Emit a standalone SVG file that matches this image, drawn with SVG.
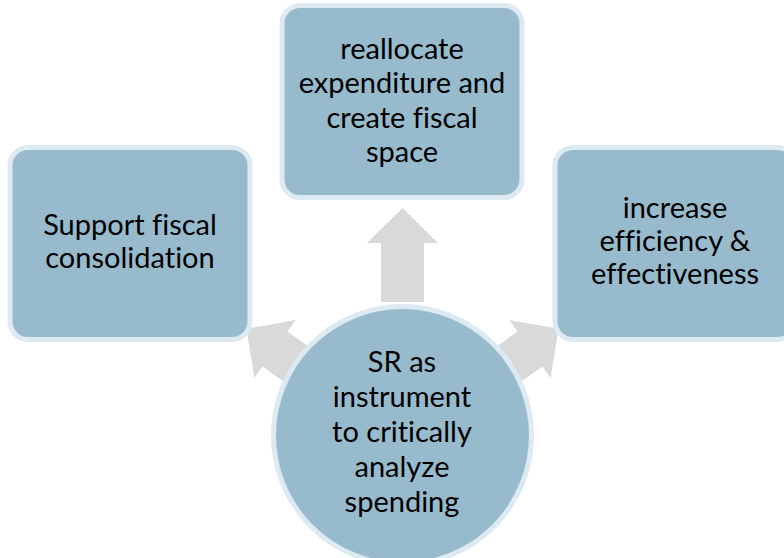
<svg xmlns="http://www.w3.org/2000/svg" width="784" height="558" viewBox="0 0 784 558">
<defs>
<style>
.node{fill:#97bbcd;stroke:#deeaf1;stroke-width:5}
.arrow{fill:#d9d9d9}
.t{font-family:Lato,"Open Sans",sans-serif;font-size:29px;fill:#000;text-anchor:middle;font-variant-ligatures:none}
</style>
<polygon id="arr" points="0,0 35.5,35 21.5,35 21.5,94 -21.5,94 -21.5,35 -35.5,35"/>
</defs>
<rect width="784" height="558" fill="#fff"/>
<g id="connectors">
<use href="#arr" class="arrow" transform="translate(402.5,208)"/>
<use href="#arr" class="arrow" transform="translate(246.5,328.7) rotate(-54.5)"/>
<use href="#arr" class="arrow" transform="translate(558.5,328.7) rotate(54.5)"/>
</g>
<g id="left">
<rect class="node" x="10" y="147.5" width="240" height="192" rx="18"/>
<text class="t" x="130" y="235">Support fiscal</text>
<text class="t" x="130" y="268">consolidation</text>
</g>
<g id="top">
<rect class="node" x="282" y="5.5" width="240" height="192" rx="18"/>
<text class="t" x="402" y="59">reallocate</text>
<text class="t" x="402" y="93">expenditure and</text>
<text class="t" x="402" y="128">create fiscal</text>
<text class="t" x="402" y="162">space</text>
</g>
<g id="right">
<rect class="node" x="555" y="147.5" width="240" height="192" rx="18"/>
<text class="t" x="675" y="218">increase</text>
<text class="t" x="675" y="251">efficiency &amp;</text>
<text class="t" x="675" y="284">effectiveness</text>
</g>
<g id="center">
<circle class="node" cx="402.5" cy="435.5" r="129"/>
<text class="t" x="402" y="372">SR as</text>
<text class="t" x="402" y="407">instrument</text>
<text class="t" x="402" y="442">to critically</text>
<text class="t" x="402" y="477">analyze</text>
<text class="t" x="402" y="512">spending</text>
</g>
</svg>
